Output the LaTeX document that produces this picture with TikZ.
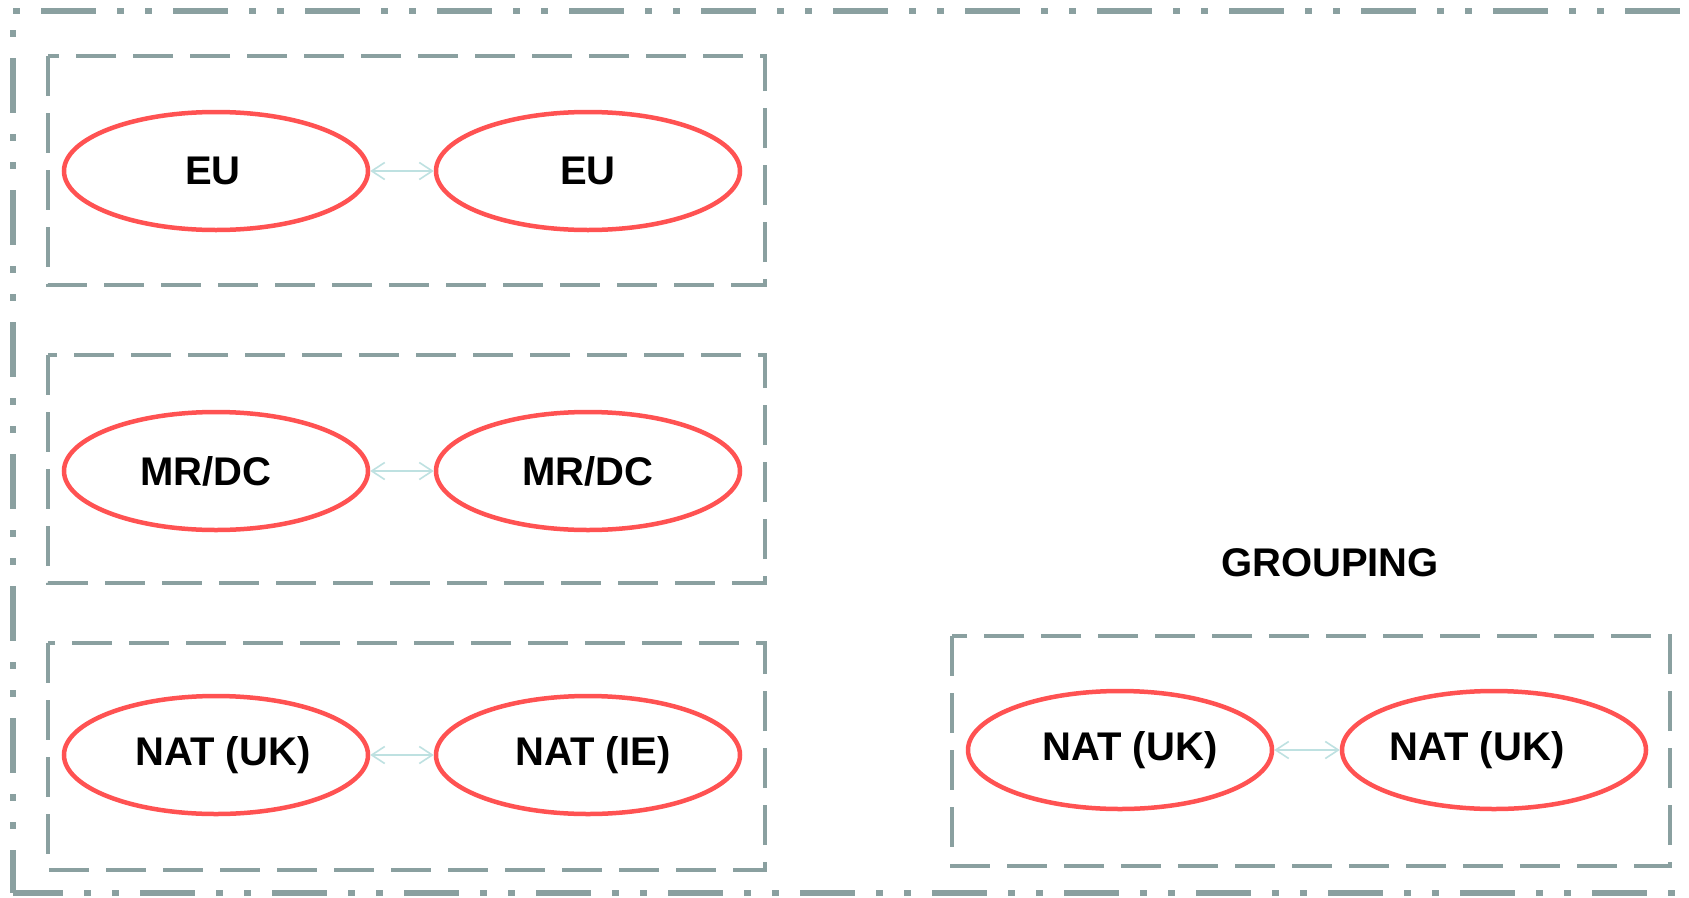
\documentclass[tikz,border=0pt]{standalone}
\usepackage{fontspec}
\setmainfont{Liberation Sans}
\usetikzlibrary{shapes.geometric,arrows.meta}
\definecolor{framegray}{RGB}{138,160,160}
\definecolor{ellred}{RGB}{255,82,82}
\definecolor{arrblue}{RGB}{190,225,225}
\tikzset{
  ell/.style={ellipse, draw=ellred, line width=4.5pt, inner sep=0pt,
    minimum width=304pt, minimum height=118pt,
    font=\fontsize{40}{47}\selectfont\bfseries},
  grp/.style={rectangle, draw=framegray, line width=4.5pt, inner sep=0pt,
    dash pattern=on 40pt off 17pt},
  outer/.style={draw=framegray, line width=6pt,
    dash pattern=on 7pt off 21pt on 55pt off 21pt on 7pt off 21pt},
  link/.style={draw=arrblue, line width=1.6pt,
    {Straight Barb[length=13pt,width=17pt]}-{Straight Barb[length=13pt,width=17pt]}},
  lbl/.style={font=\fontsize{40}{47}\selectfont\bfseries}
}
\begin{document}
\begin{tikzpicture}[x=1pt,y=-1pt]
\useasboundingbox (0,0) rectangle (1689,897);
\fill[white] (0,0) rectangle (1689,897);
% outer frame (right side lies beyond the picture)
\begin{scope}
\clip (0,0) rectangle (1689,897);
\draw[outer] (13,11) -- (1720,11);
\draw[outer, dash phase=113pt] (13,11) -- (13,893);
\draw[outer, dash phase=33pt] (13,893) -- (1720,893);
\end{scope}
% group boxes
\draw[grp] (48,56) rectangle (765,285);
\draw[grp] (48,355) rectangle (765,583);
\draw[grp] (48,643) rectangle (765,870);
\draw[grp] (952,636) rectangle (1670,866);
% ellipses
\node[ell] (eu1) at (216,171) {\hspace*{-6pt}EU};
\node[ell] (eu2) at (588,171) {EU};
\node[ell] (mr1) at (216,471) {\hspace*{-20pt}MR/DC};
\node[ell] (mr2) at (588,471) {MR/DC};
\node[ell] (nuk) at (216,755) {\hspace*{14pt}NAT (UK)};
\node[ell] (nie) at (588,755) {\hspace*{10pt}NAT (IE)};
\node[ell] (guk1) at (1120,750) {\hspace*{20pt}NAT (UK)};
\node[ell] (guk2) at (1494,750) {\hspace*{-34pt}NAT (UK)};
\node[lbl] (grouping) at (1330,563) {GROUPING};
% connectors
\draw[link] (eu1) -- (eu2);
\draw[link] (mr1) -- (mr2);
\draw[link] (nuk) -- (nie);
\draw[link] (guk1) -- (guk2);
\end{tikzpicture}
\end{document}
